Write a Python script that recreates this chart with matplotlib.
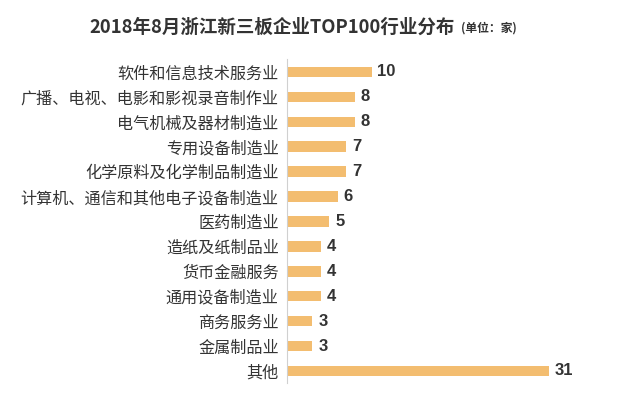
import matplotlib.pyplot as plt

plt.rcParams['font.family'] = ['Noto Sans CJK SC', 'DejaVu Sans']

# 行业及企业数量
categories = ["软件和信息技术服务业", "广播、电视、电影和影视录音制作业", "电气机械及器材制造业",
              "专用设备制造业", "化学原料及化学制品制造业", "计算机、通信和其他电子设备制造业",
              "医药制造业", "造纸及纸制品业", "货币金融服务", "通用设备制造业",
              "商务服务业", "金属制品业", "其他"]
counts = [10, 8, 8, 7, 7, 6, 5, 4, 4, 4, 3, 3, 31]

bar_color = "#F3BD70"
text_color = "#333333"

fig = plt.figure(figsize=(6.4, 3.99), dpi=100)
ax = fig.add_axes([287/640, 0.039, (620-287)/640, 0.812])

y = range(len(categories))
ax.barh(y, counts, height=0.42, color=bar_color)
for i, v in enumerate(counts):
    ax.text(v + 0.7, i, str(v), va='center', ha='left', fontsize=12,
            fontweight='bold', color=text_color, family='Liberation Sans')

ax.set_yticks(list(y))
ax.set_yticklabels(categories, fontsize=11.6, color=text_color, fontweight='medium')
ax.set_ylim(len(categories) - 0.5, -0.5)
ax.set_xlim(0, (620-287)/8.45)
ax.set_xticks([])
ax.tick_params(axis='y', length=0, pad=6)
for s in ['top', 'right', 'bottom']:
    ax.spines[s].set_visible(False)
ax.spines['left'].set_color('#D0D0D0')

fig.text(455/640, 1 - 27/399, "2018年8月浙江新三板企业TOP100行业分布", ha='right', va='center',
         fontsize=13.3, fontweight='bold', color=text_color)
fig.text(461/640, 1 - 28/399, "(单位：家)", ha='left', va='center',
         fontsize=8.5, fontweight='bold', color=text_color)

fig.savefig("out.png", dpi=100)
